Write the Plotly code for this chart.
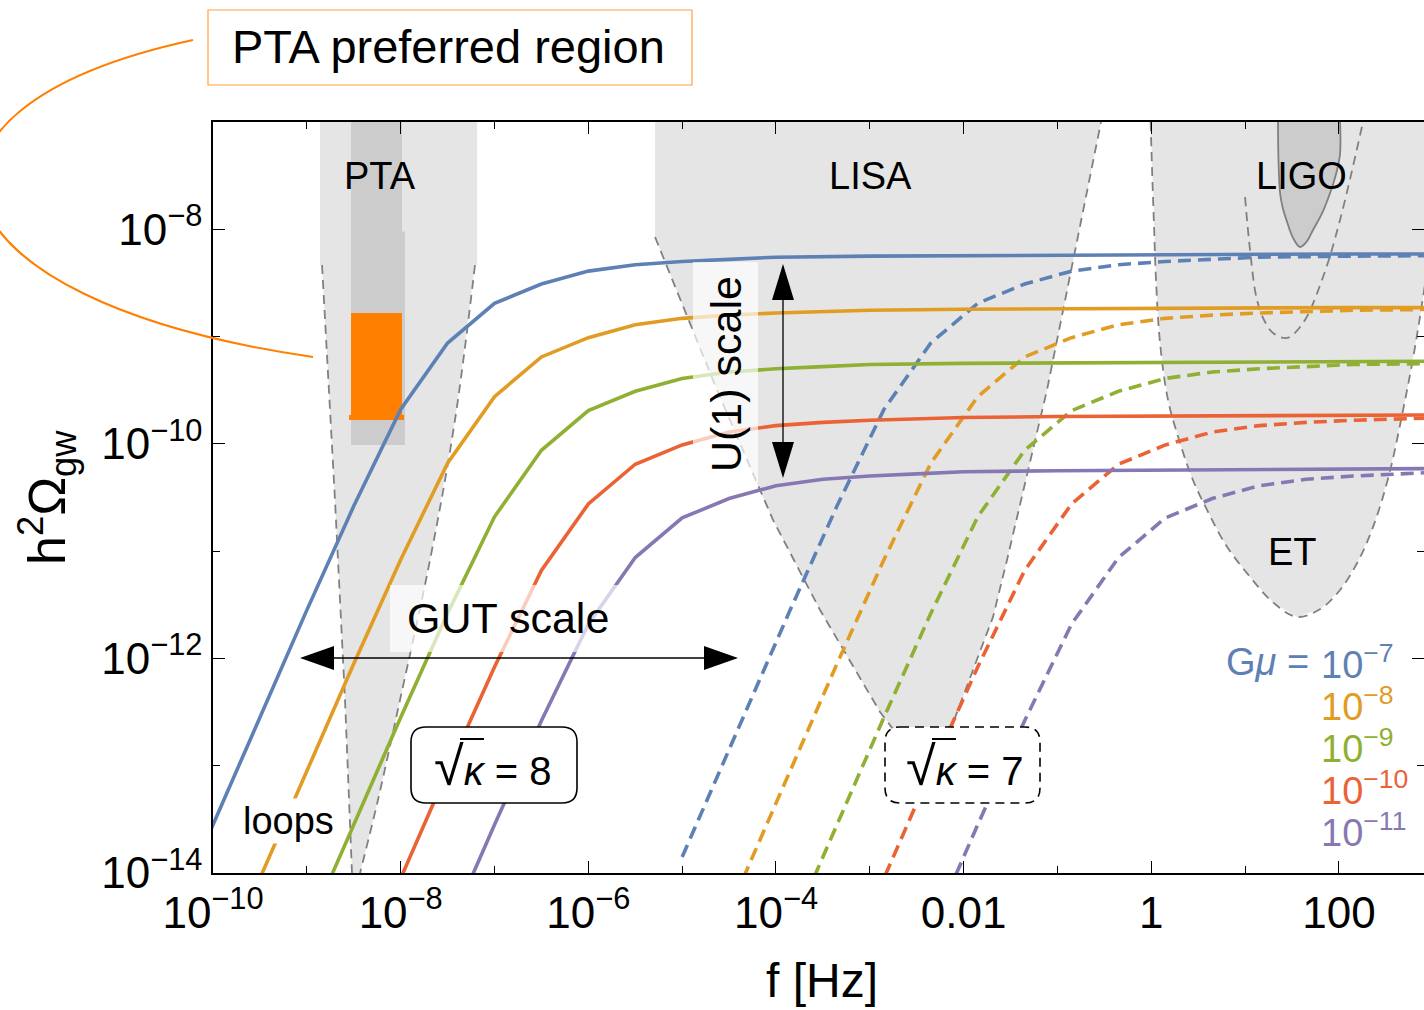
import plotly.graph_objects as go

# ---------------- data: log10 values ----------------
# sqrt(kappa) = 8  (solid)
logf_blue_8 = [-10.5, -10, -9.5, -9, -8.5, -8, -7.5, -7, -6.5, -6, -5.5, -5, -4.5, -4, -3, -2, -1, 0, 1, 2, 3]
logO_blue_8 = [-14.55, -13.55, -12.55, -11.55, -10.58, -9.68, -9.06, -8.69, -8.51, -8.39, -8.33, -8.30, -8.28, -8.26, -8.25, -8.245, -8.24, -8.235, -8.23, -8.23, -8.23]
logf_orange_8 = [-10, -9.5, -9, -8.5, -8, -7.5, -7, -6.5, -6, -5.5, -5, -4.5, -4, -3, -2, -1, 0, 1, 2, 3]
logO_orange_8 = [-15.05, -14.05, -13.05, -12.05, -11.08, -10.18, -9.56, -9.19, -9.01, -8.89, -8.83, -8.80, -8.78, -8.755, -8.745, -8.74, -8.735, -8.73, -8.73, -8.73]
logf_green_8 = [-9, -8.5, -8, -7.5, -7, -6.5, -6, -5.5, -5, -4.5, -4, -3.5, -3, -2, -1, 0, 1, 2, 3]
logO_green_8 = [-14.55, -13.55, -12.55, -11.58, -10.68, -10.06, -9.69, -9.51, -9.39, -9.33, -9.30, -9.28, -9.26, -9.25, -9.245, -9.24, -9.235, -9.23, -9.23]
logf_red_8 = [-8.5, -8, -7.5, -7, -6.5, -6, -5.5, -5, -4.5, -4, -3.5, -3, -2.5, -2, -1, 0, 1, 2, 3]
logO_red_8 = [-15.05, -14.05, -13.05, -12.08, -11.18, -10.56, -10.19, -10.01, -9.89, -9.83, -9.80, -9.78, -9.765, -9.755, -9.745, -9.74, -9.735, -9.73, -9.73]
logf_purple_8 = [-8, -7.5, -7, -6.5, -6, -5.5, -5, -4.5, -4, -3.5, -3, -2.5, -2, -1, 0, 1, 2, 3]
logO_purple_8 = [-15.55, -14.55, -13.55, -12.58, -11.68, -11.06, -10.69, -10.51, -10.39, -10.33, -10.30, -10.28, -10.26, -10.25, -10.245, -10.24, -10.235, -10.23]

# sqrt(kappa) = 7  (dashed)
logf_blue_7 = [-5.0, -4.85, -4.35, -3.85, -3.35, -2.85, -2.35, -1.85, -1.35, -0.85, -0.35, 0.15, 0.65, 1.15, 2.15, 3.15]
logO_blue_7 = [-13.85, -13.55, -12.55, -11.55, -10.58, -9.68, -9.06, -8.69, -8.51, -8.39, -8.33, -8.30, -8.28, -8.26, -8.25, -8.245]
logf_orange_7 = [-4.35, -3.85, -3.35, -2.85, -2.35, -1.85, -1.35, -0.85, -0.35, 0.15, 0.65, 1.15, 2.15, 3.15]
logO_orange_7 = [-14.05, -13.05, -12.05, -11.08, -10.18, -9.56, -9.19, -9.01, -8.89, -8.83, -8.80, -8.78, -8.755, -8.745]
logf_green_7 = [-3.85, -3.35, -2.85, -2.35, -1.85, -1.35, -0.85, -0.35, 0.15, 0.65, 1.15, 1.65, 2.15, 3.15]
logO_green_7 = [-14.55, -13.55, -12.55, -11.58, -10.68, -10.06, -9.69, -9.51, -9.39, -9.33, -9.30, -9.28, -9.26, -9.25]
logf_red_7 = [-3.35, -2.85, -2.35, -1.85, -1.35, -0.85, -0.35, 0.15, 0.65, 1.15, 1.65, 2.15, 2.65, 3.15]
logO_red_7 = [-15.05, -14.05, -13.05, -12.08, -11.18, -10.56, -10.19, -10.01, -9.89, -9.83, -9.80, -9.78, -9.765, -9.755]
logf_purple_7 = [-2.85, -2.35, -1.85, -1.35, -0.85, -0.35, 0.15, 0.65, 1.15, 1.65, 2.15, 2.65, 3.15]
logO_purple_7 = [-15.55, -14.55, -13.55, -12.58, -11.68, -11.06, -10.69, -10.51, -10.39, -10.33, -10.30, -10.28, -10.26]

# detector sensitivity regions
pta_fill_logf = [-8.86, -7.186, -7.186, -7.208, -7.421, -7.687, -8.007, -8.242, -8.433, -8.519, -8.593, -8.700, -8.838, -8.86]
pta_fill_logO = [-7.0, -7.0, -8.333, -8.333, -9.777, -11.082, -12.387, -13.319, -14.0, -14.0, -12.387, -10.523, -8.333, -8.333]
pta_left_logf = [-8.838, -8.700, -8.593, -8.519]
pta_left_logO = [-8.333, -10.523, -12.387, -14.0]
pta_right_logf = [-7.208, -7.421, -7.687, -8.007, -8.242, -8.433]
pta_right_logO = [-8.333, -9.777, -11.082, -12.387, -13.319, -14.0]
pta_bar_logf = [-8.529, -7.986, -7.986, -7.954, -7.954, -8.529]
pta_bar_logO = [-7.0, -7.0, -8.02, -8.02, -10.010, -10.010]
pta_pref_logf = [-8.529, -7.986, -7.986, -8.529]
pta_pref_logO = [-8.780, -8.780, -9.777, -9.777]
pta_pref_edge_logf = [-8.550, -7.964, -7.964, -8.550]
pta_pref_edge_logO = [-9.731, -9.731, -9.777, -9.777]

lisa_logf = [-5.289, -5.289, -4.629, -4.032, -3.531, -2.891, -2.625, -2.358, -2.113, -1.687, -1.538, -1.112, -0.536]
lisa_logO = [-7.0, -8.072, -9.498, -10.709, -11.548, -12.499, -12.806, -12.834, -12.601, -11.613, -11.082, -9.498, -7.0]

et_logf = [-0.0075, 0.010, 0.030, 0.050, 0.093, 0.178, 0.306, 0.440, 0.594, 0.800, 1.052, 1.300, 1.553, 1.800, 2.011, 2.200, 2.363, 2.530, 2.683, 2.800, 2.896, 3.130]
et_logO = [-7.0, -7.500, -8.000, -8.473, -9.060, -9.591, -9.992, -10.330, -10.616, -10.950, -11.240, -11.480, -11.613, -11.540, -11.362, -11.100, -10.774, -10.300, -9.684, -9.150, -8.631, -7.261]

ligo_logf = [1.350, 1.355, 1.372, 1.400, 1.446, 1.510, 1.585, 1.660, 1.723, 1.820, 1.905, 1.970, 2.011, 2.011]
ligo_logO = [-7.0, -7.350, -7.662, -7.800, -7.930, -8.080, -8.165, -8.110, -8.007, -7.850, -7.662, -7.480, -7.300, -7.0]
ligo_design_logf = [0.999, 1.052, 1.126, 1.212, 1.297, 1.446, 1.617, 1.830, 2.011, 2.256]
ligo_design_logO = [-7.699, -8.193, -8.659, -8.864, -8.966, -9.013, -8.873, -8.445, -7.913, -7.0]

x_tickvals = [1e-10, 1e-8, 1e-6, 1e-4, 1e-2, 1, 100]
x_ticktext = ["10<sup>−10</sup>", "10<sup>−8</sup>", "10<sup>−6</sup>", "10<sup>−4</sup>", "0.01", "1", "100"]
x_minor = [1e-9, 1e-7, 1e-5, 1e-3, 1e-1, 10]
y_tickvals = [1e-14, 1e-12, 1e-10, 1e-8]
y_ticktext = ["10<sup>−14</sup>", "10<sup>−12</sup>", "10<sup>−10</sup>", "10<sup>−8</sup>"]
y_minor = [1e-13, 1e-11, 1e-9]

gmu_labels = ["10<sup>−7</sup>", "10<sup>−8</sup>", "10<sup>−9</sup>", "10<sup>−10</sup>", "10<sup>−11</sup>"]
colors = ["#5E81B5", "#E19C24", "#8FB032", "#EB6235", "#8778B3"]

# ---------------- figure ----------------
FONT = "Liberation Sans, Arial, sans-serif"
LIGHT = "#e5e5e5"
DARK = "#cccccc"
GREY = "#808080"


def pw(a):
    return [10.0 ** v for v in a]


fig = go.Figure()

# regions
fig.add_trace(go.Scatter(x=pw(pta_fill_logf), y=pw(pta_fill_logO), fill="toself", fillcolor=LIGHT,
                         mode="lines", line=dict(width=0), hoverinfo="skip"))
fig.add_trace(go.Scatter(x=pw(pta_bar_logf), y=pw(pta_bar_logO), fill="toself", fillcolor=DARK,
                         mode="lines", line=dict(width=0), hoverinfo="skip"))
fig.add_trace(go.Scatter(x=pw(pta_pref_logf), y=pw(pta_pref_logO), fill="toself", fillcolor="#FF8000",
                         mode="lines", line=dict(width=0), hoverinfo="skip"))
fig.add_trace(go.Scatter(x=pw(pta_pref_edge_logf), y=pw(pta_pref_edge_logO), fill="toself", fillcolor="#FF8000",
                         mode="lines", line=dict(width=0), hoverinfo="skip"))
fig.add_trace(go.Scatter(x=pw(lisa_logf), y=pw(lisa_logO), fill="toself", fillcolor=LIGHT,
                         mode="lines", line=dict(width=0), hoverinfo="skip"))
fig.add_trace(go.Scatter(x=pw(et_logf + [et_logf[-1], et_logf[0]]), y=pw(et_logO + [-6.9, -6.9]),
                         fill="toself", fillcolor=LIGHT, mode="lines", line=dict(width=0), hoverinfo="skip"))
fig.add_trace(go.Scatter(x=pw(ligo_logf), y=pw(ligo_logO), fill="toself", fillcolor=DARK,
                         mode="lines", line=dict(width=1.8, color=GREY, shape="spline"), hoverinfo="skip"))

# dashed detector outlines
for fx, fy, shp in [(pta_left_logf, pta_left_logO, "linear"), (pta_right_logf, pta_right_logO, "spline"),
                    (lisa_logf[1:], lisa_logO[1:], "linear"), (et_logf, et_logO, "spline"),
                    (ligo_design_logf, ligo_design_logO, "spline")]:
    fig.add_trace(go.Scatter(x=pw(fx), y=pw(fy), mode="lines",
                             line=dict(color=GREY, width=1.8, dash="9px,6px", shape=shp), hoverinfo="skip"))

# GW spectra
solid = [(logf_blue_8, logO_blue_8), (logf_orange_8, logO_orange_8), (logf_green_8, logO_green_8),
         (logf_red_8, logO_red_8), (logf_purple_8, logO_purple_8)]
dashed = [(logf_blue_7, logO_blue_7), (logf_orange_7, logO_orange_7), (logf_green_7, logO_green_7),
          (logf_red_7, logO_red_7), (logf_purple_7, logO_purple_7)]
for (fx, fy), c in zip(dashed, colors):
    fig.add_trace(go.Scatter(x=pw(fx), y=pw(fy), mode="lines",
                             line=dict(color=c, width=3.6, dash="13px,7px"), hoverinfo="skip"))
for (fx, fy), c in zip(solid, colors):
    fig.add_trace(go.Scatter(x=pw(fx), y=pw(fy), mode="lines",
                             line=dict(color=c, width=3.6), hoverinfo="skip"))

# ---------------- decorations (pixel -> paper helper) ----------------
L0, R0, T0, B0 = 213, 1424, 122, 873


def px(x):
    return (x - L0) / (R0 - L0)


def py(y):
    return (B0 - y) / (B0 - T0)


def P(x, y):
    return f"{px(x):.5f},{py(y):.5f}"


def rounded(x0, y0, x1, y1, r):
    return (f"M {P(x0 + r, y0)} L {P(x1 - r, y0)} Q {P(x1, y0)} {P(x1, y0 + r)} "
            f"L {P(x1, y1 - r)} Q {P(x1, y1)} {P(x1 - r, y1)} L {P(x0 + r, y1)} "
            f"Q {P(x0, y1)} {P(x0, y1 - r)} L {P(x0, y0 + r)} Q {P(x0, y0)} {P(x0 + r, y0)} Z")


shapes = []
# callout curve
shapes.append(dict(type="path", xref="paper", yref="paper",
                   path=f"M {P(193, 40)} C {P(-130, 110)} {P(-80, 300)} {P(313, 357)}",
                   line=dict(color="#FF8000", width=2)))
# PTA preferred region box
shapes.append(dict(type="rect", xref="paper", yref="paper", x0=px(208), x1=px(692), y0=py(85), y1=py(10),
                   line=dict(color="#FFA040", width=1.2), fillcolor="white"))
# translucent label backgrounds
shapes.append(dict(type="rect", xref="paper", yref="paper", x0=px(390), x1=px(626), y0=py(652), y1=py(585),
                   line=dict(width=0), fillcolor="rgba(255,255,255,0.68)"))
shapes.append(dict(type="rect", xref="paper", yref="paper", x0=px(693), x1=px(758), y0=py(482), y1=py(262),
                   line=dict(width=0), fillcolor="rgba(255,255,255,0.68)"))
# GUT arrow
shapes.append(dict(type="line", xref="paper", yref="paper", x0=px(320), x1=px(720), y0=py(658), y1=py(658),
                   line=dict(color="black", width=1.3)))
shapes.append(dict(type="path", xref="paper", yref="paper",
                   path=f"M {P(300, 658)} L {P(334, 646)} L {P(334, 670)} Z", fillcolor="black",
                   line=dict(width=0)))
shapes.append(dict(type="path", xref="paper", yref="paper",
                   path=f"M {P(738, 658)} L {P(704, 646)} L {P(704, 670)} Z", fillcolor="black",
                   line=dict(width=0)))
# U(1) arrow
shapes.append(dict(type="line", xref="paper", yref="paper", x0=px(783), x1=px(783), y0=py(290), y1=py(455),
                   line=dict(color="black", width=1.3)))
shapes.append(dict(type="path", xref="paper", yref="paper",
                   path=f"M {P(783, 264)} L {P(772, 300)} L {P(794, 300)} Z", fillcolor="black",
                   line=dict(width=0)))
shapes.append(dict(type="path", xref="paper", yref="paper",
                   path=f"M {P(783, 478)} L {P(772, 442)} L {P(794, 442)} Z", fillcolor="black",
                   line=dict(width=0)))
# kappa boxes
shapes.append(dict(type="path", xref="paper", yref="paper", path=rounded(411, 727, 577, 803, 15),
                   fillcolor="white", line=dict(color="black", width=1.6)))
shapes.append(dict(type="path", xref="paper", yref="paper", path=rounded(885, 727, 1040, 803, 15),
                   fillcolor="white", line=dict(color="black", width=1.6, dash="9px,6px")))
# radical overbars
shapes.append(dict(type="line", xref="paper", yref="paper", x0=px(460), x1=px(484), y0=py(739), y1=py(739),
                   line=dict(color="black", width=2)))
shapes.append(dict(type="line", xref="paper", yref="paper", x0=px(932), x1=px(956), y0=py(739), y1=py(739),
                   line=dict(color="black", width=2)))

annotations = []


def ann(text, x, y, size, color="black", **kw):
    d = dict(text=text, x=px(x), y=py(y), xref="paper", yref="paper", showarrow=False,
             font=dict(family=FONT, size=size, color=color), xanchor="center", yanchor="middle")
    d.update(kw)
    annotations.append(d)


ann("PTA preferred region", 448, 47, 47)
ann("PTA", 380, 176, 38)
ann("LISA", 870, 176, 38)
ann("LIGO", 1301, 176, 38)
ann("ET", 1292, 552, 38)
ann("GUT scale", 508, 618, 43)
ann("U(1) scale", 726, 374, 43, textangle=-90)
ann("loops", 288, 821, 38, bgcolor="white", borderpad=1)
ann("<span style='font-size:54px'>√</span><i>κ</i> = 8", 492, 766, 40)
ann("<span style='font-size:54px'>√</span><i>κ</i> = 7", 964, 766, 40)
ann("f [Hz]", 822, 980, 48)
ann("h<sup>2</sup>Ω<sub>gw</sub>", 47, 498, 52, textangle=-90)
ann("G<i>μ</i> =", 1311, 662, 38, color=colors[0], xanchor="right")
for i, (t, c) in enumerate(zip(gmu_labels, colors)):
    ann(t, 1319, 662 + 42 * i, 38, color=c, xanchor="left")

axis_common = dict(type="log", showgrid=False, zeroline=False, showline=True, linecolor="black",
                   linewidth=1.5, ticks="inside", ticklen=12, tickwidth=1.3, tickcolor="black",
                   tickfont=dict(family=FONT, size=44, color="black"))

fig.update_layout(
    width=1424, height=1010,
    margin=dict(l=L0, r=1424 - R0, t=T0, b=1010 - B0, autoexpand=False),
    paper_bgcolor="white", plot_bgcolor="white",
    showlegend=False,
    xaxis=dict(axis_common, range=[-10, 2.906], tickmode="array", tickvals=x_tickvals, ticktext=x_ticktext,
               mirror="ticks",
               minor=dict(tickmode="array", tickvals=x_minor, ticks="inside", ticklen=7, tickwidth=1.3,
                          tickcolor="black")),
    yaxis=dict(axis_common, range=[-14, -7], tickmode="array", tickvals=y_tickvals, ticktext=y_ticktext,
               mirror="ticks",
               minor=dict(tickmode="array", tickvals=y_minor, ticks="inside", ticklen=7, tickwidth=1.3,
                          tickcolor="black")),
    shapes=shapes,
    annotations=annotations,
)

fig.write_html("out.html")
